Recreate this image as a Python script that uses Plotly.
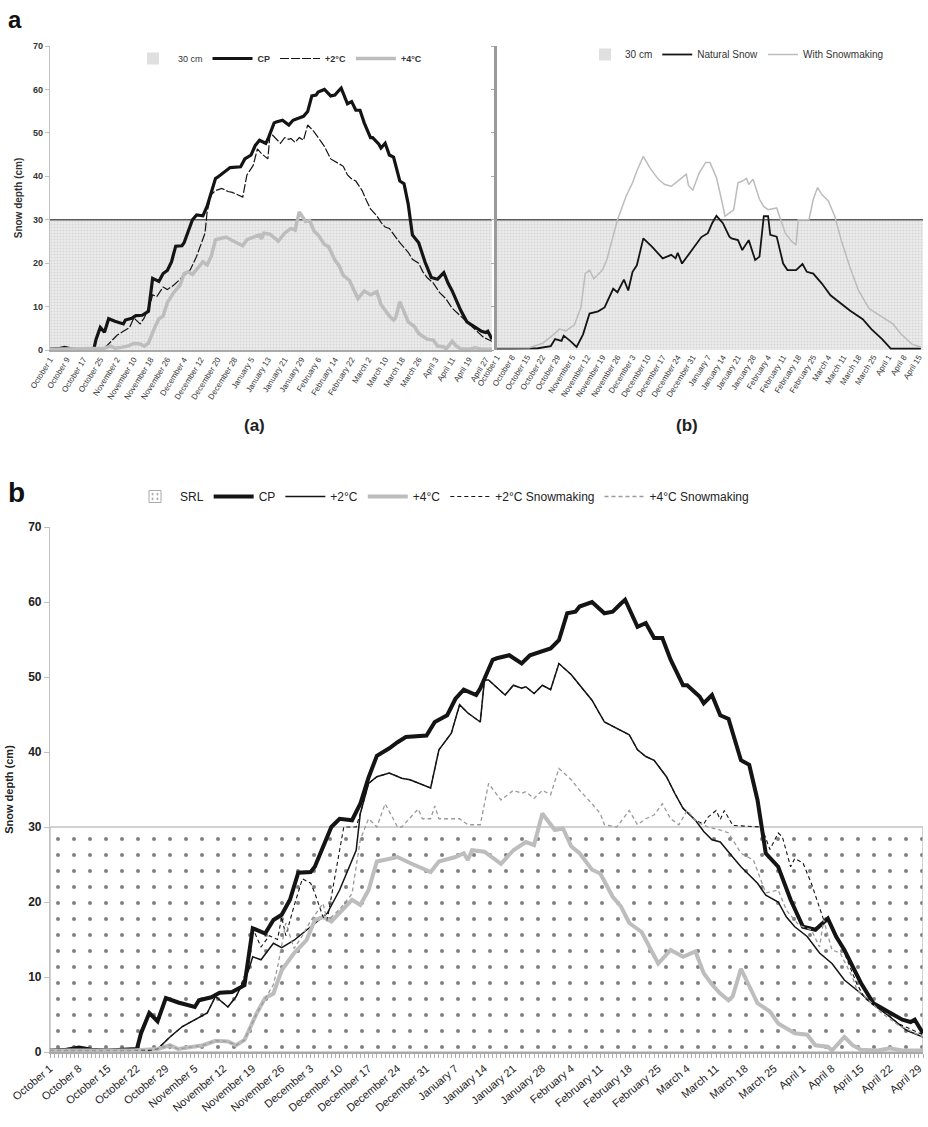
import plotly.graph_objects as go

W, H = 928, 1127

# ---------------- data (x = days since October 1, y = snow depth in cm) ----------------
CP = [(0,0.2),(4,0.3),(7,0.6),(10,0.3),(14,0.2),(18,0.3),(21,0.4),(22,2.5),(24,5.2),(26,4.1),
      (28,7.2),(31,6.6),(35,6.0),(36,6.9),(39,7.3),(41,7.9),(44,8.0),(47,8.9),(48,12.7),(49,16.5),
      (52,15.8),(54,17.6),(56,18.3),(58,20.3),(60,23.9),(63,24.0),(64,24.7),(68,30.0),(70,31.1),
      (73,30.9),(75,33.1),(77,36.6),(79,39.5),(80,39.8),(82,40.5),(84,41.3),(86,42.0),(91,42.2),
      (93,44.0),(96,44.9),(98,47.1),(100,48.3),(103,47.6),(104,48.5),(107,52.3),(108,52.5),
      (111,52.9),(114,51.8),(116,52.9),(121,53.8),(123,54.9),(125,58.5),(127,58.7),(128,59.4),
      (131,60.0),(134,58.5),(136,58.7),(138,59.8),(139,60.3),(142,56.7),(144,57.2),(146,55.2),
      (148,55.2),(150,52.3),(153,48.9),(154,48.9),(157,47.4),(158,46.5),(160,47.6),(162,44.9),
      (164,44.4),(167,38.9),(169,38.3),(171,33.6),(173,26.5),(176,24.7),(179,20.3),(182,16.7),
      (185,16.3),(188,17.8),(190,15.4),(192,13.6),(196,9.2),(199,6.5),(203,5.2),(206,4.3),
      (208,4.0),(209,4.3),(211,2.5)]

PLUS2 = [(0,0.2),(14,0.2),(24,0.2),(26,0.4),(29,2.0),(32,3.4),(35,4.3),(38,5.2),(40,7.4),(43,6.0),
         (45,7.4),(48,10.9),(49,12.7),(51,12.3),(54,14.5),(56,13.9),(59,14.9),(61,15.8),(64,17.1),
         (67,18.5),(70,21.6),(74,26.9),(75,31.8),(77,35.8),(79,36.7),(82,37.2),(85,36.5),(87,36.3),
         (92,35.2),(94,40.3),(97,42.5),(99,46.3),(101,45.2),(104,44.0),(105,49.6),(106,49.6),
         (110,47.6),(112,48.9),(114,48.5),(115,48.7),(117,47.8),(119,48.9),(121,48.3),(123,51.8),
         (126,50.3),(128,48.9),(131,46.9),(134,44.0),(137,43.2),(140,42.3),(142,40.3),(144,39.4),
         (146,38.9),(149,36.7),(151,34.5),(153,32.5),(156,30.9),(158,29.4),(160,28.3),(162,28.0),
         (165,26.0),(167,24.7),(171,22.5),(173,20.9),(176,20.0),(178,18.0),(180,16.7),(183,15.4),
         (186,13.2),(189,11.8),(192,9.6),(196,7.8),(199,6.3),(203,4.7),(207,2.9),(211,2.0)]

PLUS4 = [(0,0.2),(10,0.2),(20,0.2),(26,0.4),(29,0.9),(31,0.4),(34,0.6),(37,0.9),(40,1.5),(43,1.4),
         (45,0.9),(47,1.6),(50,5.2),(52,7.2),(54,7.8),(56,10.9),(59,13.2),(62,14.9),(64,17.6),
         (66,18.0),(68,17.4),(70,18.6),(73,20.3),(75,19.6),(77,21.6),(79,25.4),(81,25.6),(84,26.0),
         (87,25.2),(92,24.0),(94,25.4),(98,26.0),(100,26.5),(101,25.6),(102,26.9),(105,26.7),
         (109,25.1),(112,26.9),(115,28.0),(117,27.6),(119,31.8),(122,29.6),(124,29.8),(126,27.4),
         (128,26.5),(131,24.3),(133,23.8),(136,20.7),(138,19.4),(140,17.2),(143,16.0),(147,11.8),
         (150,13.6),(153,12.7),(156,13.4),(158,10.5),(160,9.0),(162,7.8),(164,6.9),(165,7.4),
         (167,11.1),(169,8.7),(171,6.5),(174,5.4),(176,3.8),(180,2.5),(183,2.3),(185,0.9),
         (188,0.7),(189,0.2),(192,2.0),(194,0.9),(196,0.3),(200,0.2),(203,0.5),(206,0.2),(211,0.2)]

PLUS2_SM = [(0,0.2),(24,0.2),(26,0.4),(29,2.0),(32,3.4),(35,4.3),(38,5.2),(40,7.4),(43,6.0),
            (45,7.4),(48,11.5),(49,16.5),(51,14.0),(53,15.5),(55,15.0),(56,18.0),(57,15.5),
            (59,19.5),(61,23.1),(63,22.5),(64,21.2),(66,18.0),(67,17.6),(69,23.8),(71,30.0),
            (74,30.0),(75,31.8),(77,35.8),(79,36.7),(82,37.2),(85,36.5),(87,36.3),(92,35.2),
            (94,40.3),(97,42.5),(99,46.3),(101,45.2),(104,44.0),(105,49.6),(106,49.6),(110,47.6),
            (112,48.9),(114,48.5),(115,48.7),(117,47.8),(119,48.9),(121,48.3),(123,51.8),
            (126,50.3),(128,48.9),(131,46.9),(134,44.0),(137,43.2),(140,42.3),(142,40.3),
            (144,39.4),(146,38.9),(149,36.7),(151,34.5),(153,32.5),(156,30.9),(158,30.4),
            (159,31.3),(161,32.2),(162,31.0),(163,32.2),(165,30.2),(172,30.0),(174,27.0),
            (176,29.2),(177,28.7),(179,24.7),(180,25.8),(182,25.2),(184,22.5),(187,17.6),
            (188,17.8),(190,15.4),(192,13.2),(195,9.1),(197,7.1),(201,5.6),(205,3.8),(211,2.3)]

PLUS4_SM = [(0,0.2),(20,0.2),(26,0.4),(29,0.9),(31,0.4),(34,0.6),(37,0.9),(40,1.5),(43,1.4),
            (45,0.9),(47,1.6),(50,5.2),(52,7.2),(54,9.0),(55,11.3),(57,17.2),(59,13.8),(61,15.5),
            (63,17.5),(66,19.8),(67,17.5),(70,19.0),(73,21.1),(75,28.3),(77,31.1),(79,30.0),
            (81,33.1),(84,30.0),(85,30.0),(89,32.4),(90,31.1),(92,31.1),(93,32.8),(94,31.1),
            (99,31.1),(101,30.3),(104,30.3),(106,35.8),(109,33.6),(112,34.9),(114,34.5),
            (115,34.7),(117,33.8),(119,34.9),(121,34.3),(123,37.8),(126,36.3),(128,34.9),
            (131,33.1),(133,31.8),(134,30.3),(137,30.0),(140,32.2),(142,30.3),(144,31.1),
            (146,31.6),(148,33.1),(150,31.1),(152,30.3),(154,32.2),(156,30.9),(157,30.5),
            (159,30.0),(162,29.6),(164,29.2),(167,26.5),(170,25.6),(173,21.2),(176,21.6),
            (178,18.9),(181,16.9),(184,16.3),(186,14.0),(187,17.6),(189,13.6),(191,13.2),
            (194,9.9),(195,8.3),(197,7.4),(201,5.2),(205,3.6),(211,2.0)]

NATURAL = [(0,0.3),(10,0.3),(19,0.4),(25,0.9),(27,2.5),(30,2.1),(31,3.3),(34,2.1),(37,0.7),
           (40,3.6),(43,8.4),(47,8.9),(50,9.8),(54,14.1),(56,13.3),(59,16.2),(61,13.7),(63,18.0),
           (65,19.5),(68,25.7),(72,23.8),(77,21.1),(81,21.9),(83,21.1),(84,22.4),(86,19.9),
           (89,21.9),(92,23.8),(95,26.0),(98,26.9),(100,29.2),(102,30.9),(105,29.2),(108,26.1),
           (109,25.7),(112,25.3),(114,23.0),(117,25.3),(120,20.7),(122,21.5),(124,30.8),
           (126,30.8),(127,26.5),(130,26.1),(133,19.9),(135,18.4),(139,18.4),(142,19.8),
           (144,18.0),(147,17.6),(151,15.3),(155,12.6),(159,11.0),(164,9.1),(170,7.1),(174,4.8),
           (179,2.5),(183,0.3),(197,0.3)]

WITH_SM = [(0,0.5),(15,0.5),(21,1.5),(25,3.0),(29,4.8),(32,4.4),(36,5.8),(39,9.8),(41,17.6),
           (43,18.4),(45,16.4),(49,18.4),(51,20.7),(53,24.6),(56,30.0),(60,35.4),(63,38.5),
           (65,41.2),(68,44.6),(71,42.0),(75,39.3),(78,38.1),(81,37.7),(83,38.5),(85,39.3),
           (88,40.5),(89,37.9),(91,36.8),(94,40.8),(97,43.2),(99,43.2),(102,39.7),(104,35.4),
           (106,30.8),(109,31.9),(110,32.3),(112,38.5),(114,38.9),(116,39.5),(117,38.1),
           (119,39.3),(122,34.7),(124,33.0),(126,32.3),(130,32.7),(134,26.9),(137,25.0),
           (139,24.2),(140,30.0),(145,30.0),(147,34.7),(149,37.4),(151,35.8),(154,34.3),
           (157,30.8),(160,25.3),(164,19.1),(168,13.7),(173,9.5),(178,7.9),(184,6.0),(188,3.6),
           (193,1.3),(197,0.7)]

THRESHOLD = 30          # 30 cm / SRL
SEASON_END = 211        # April 30 (days since Oct 1)
SEASON_END_B = 198      # end of panel (b) season

LABELS_A = ["October 1","October 9","October 17","October 25","November 2","November 10",
            "November 18","November 26","December 4","December 12","December 20","December 28",
            "January 5","January 13","January 21","January 29","February 6","February 14",
            "February 22","March 2","March 10","March 18","March 26","April 3","April 11",
            "April 19","April 27"]
LABELS_B = ["October 1","October 8","October 15","October 22","October 29","November 5",
            "November 12","November 19","November 26","December 3","December 10","December 17",
            "December 24","December 31","January 7","January 14","January 21","January 28",
            "February 4","February 11","February 18","February 25","March 4","March 11",
            "March 18","March 25","April 1","April 8","April 15"]
LABELS_BOTTOM = ["October 1","October 8","October 15","October 22","October 29","November 5",
                 "November 12","November 19","November 26","December 3","December 10",
                 "December 17","December 24","December 31","January 7","January 14",
                 "January 21","January 28","February 4","February 11","February 18",
                 "February 25","March 4","March 11","March 18","March 25","April 1","April 8",
                 "April 15","April 22","April 29"]


def xs(p):
    return [d for d, _ in p]


def ys(p):
    return [v for _, v in p]


def dom_x(a, b):
    return [a / W, b / W]


def dom_y(top, bottom):
    return [1 - bottom / H, 1 - top / H]


BLACK = "#141414"
GRAY = "#bdbdbd"
FONT = "Liberation Sans"
NARROW = "Liberation Sans Narrow, Liberation Sans, Arial, sans-serif"

fig = go.Figure()

top_fill = dict(shape=".", size=3, solidity=0.35, fgcolor="#c4c4c4", bgcolor="#ebebeb")
top_legend_fill = dict(shape=".", size=2, solidity=0.4, fgcolor="#bbbbbb", bgcolor="#e8e8e8")
srl_fill = dict(shape=".", size=16, solidity=0.05, fgcolor="black", bgcolor="white")

# ---------- panel a (top-left) ----------
fig.add_trace(go.Scatter(x=[0, SEASON_END], y=[THRESHOLD, THRESHOLD], mode="lines", fill="tozeroy",
                         fillcolor="#e6e6e6", fillpattern=top_fill,
                         line=dict(color="#5a5a5a", width=1.5), name="30 cm", showlegend=False,
                         xaxis="x", yaxis="y"))
fig.add_trace(go.Bar(x=[None], y=[None], name="30 cm", xaxis="x", yaxis="y", legend="legend",
                     marker=dict(color="#e8e8e8", pattern=top_legend_fill, line=dict(width=0))))
fig.add_trace(go.Scatter(x=xs(CP), y=ys(CP), mode="lines", line=dict(color=BLACK, width=3.2),
                         name="<b>CP</b>", xaxis="x", yaxis="y", legend="legend"))
fig.add_trace(go.Scatter(x=xs(PLUS2), y=ys(PLUS2), mode="lines",
                         line=dict(color=BLACK, width=1.2, dash="9px,2px"),
                         name="<b>+2°C</b>", xaxis="x", yaxis="y", legend="legend"))
fig.add_trace(go.Scatter(x=xs(PLUS4), y=ys(PLUS4), mode="lines", line=dict(color=GRAY, width=3.5),
                         name="<b>+4°C</b>", xaxis="x", yaxis="y", legend="legend"))

# ---------- panel b (top-right) ----------
fig.add_trace(go.Scatter(x=[0, SEASON_END_B], y=[THRESHOLD, THRESHOLD], mode="lines", fill="tozeroy",
                         fillcolor="#e6e6e6", fillpattern=top_fill,
                         line=dict(color="#5a5a5a", width=1.5), name="30 cm", showlegend=False,
                         xaxis="x2", yaxis="y2"))
fig.add_trace(go.Bar(x=[None], y=[None], name="30 cm", xaxis="x2", yaxis="y2", legend="legend2",
                     marker=dict(color="#e8e8e8", pattern=top_legend_fill, line=dict(width=0))))
fig.add_trace(go.Scatter(x=xs(NATURAL), y=ys(NATURAL), mode="lines", line=dict(color=BLACK, width=1.8),
                         name="Natural Snow", xaxis="x2", yaxis="y2", legend="legend2"))
fig.add_trace(go.Scatter(x=xs(WITH_SM), y=ys(WITH_SM), mode="lines", line=dict(color="#bcbcbc", width=1.5),
                         name="With Snowmaking", xaxis="x2", yaxis="y2", legend="legend2"))

# ---------- bottom panel ----------
fig.add_trace(go.Scatter(x=[0, 0, SEASON_END, SEASON_END, 0], y=[0, THRESHOLD, THRESHOLD, 0, 0],
                         mode="lines", fill="toself", fillcolor="white", fillpattern=srl_fill,
                         line=dict(color="#c4c4c4", width=1.5), name="SRL", showlegend=False,
                         xaxis="x3", yaxis="y3"))
fig.add_trace(go.Bar(x=[None], y=[None], name="SRL", xaxis="x3", yaxis="y3", legend="legend3",
                     marker=dict(color="white",
                                 pattern=dict(shape=".", size=6, solidity=0.12, fgcolor="black", bgcolor="white"),
                                 line=dict(color="#aaaaaa", width=1))))
fig.add_trace(go.Scatter(x=xs(CP), y=ys(CP), mode="lines", line=dict(color=BLACK, width=4),
                         name="CP", xaxis="x3", yaxis="y3", legend="legend3"))
fig.add_trace(go.Scatter(x=xs(PLUS2), y=ys(PLUS2), mode="lines", line=dict(color=BLACK, width=1.5),
                         name="+2°C", xaxis="x3", yaxis="y3", legend="legend3"))
fig.add_trace(go.Scatter(x=xs(PLUS4), y=ys(PLUS4), mode="lines", line=dict(color=GRAY, width=4),
                         name="+4°C", xaxis="x3", yaxis="y3", legend="legend3"))
fig.add_trace(go.Scatter(x=xs(PLUS2_SM), y=ys(PLUS2_SM), mode="lines",
                         line=dict(color=BLACK, width=1.1, dash="4px,3px"),
                         name="+2°C Snowmaking", xaxis="x3", yaxis="y3", legend="legend3"))
fig.add_trace(go.Scatter(x=xs(PLUS4_SM), y=ys(PLUS4_SM), mode="lines",
                         line=dict(color="#9a9a9a", width=1.3, dash="4px,3px"),
                         name="+4°C Snowmaking", xaxis="x3", yaxis="y3", legend="legend3"))

top_tickfont = dict(family=FONT, size=8, color="#333")
fig.update_layout(
    width=W, height=H, margin=dict(l=0, r=0, t=0, b=0, autoexpand=False),
    paper_bgcolor="white", plot_bgcolor="white",
    font=dict(family=FONT, color="#222"),
    xaxis=dict(domain=dom_x(50, 492), range=[0, SEASON_END], tickmode="array", automargin=False,
               tickvals=[8 * i for i in range(len(LABELS_A))], ticktext=LABELS_A, tickangle=-58,
               tickfont=top_tickfont, showgrid=False, zeroline=False, showline=True,
               linecolor="#aaaaaa", linewidth=1.5, ticks=""),
    yaxis=dict(domain=dom_y(46, 350), range=[0, 70], dtick=10, showgrid=False, zeroline=False,
               automargin=False,
               showline=True, linecolor="#c0c0c0", linewidth=1.2, ticks="outside", ticklen=4,
               tickcolor="#c0c0c0", tickfont=dict(family=FONT, size=9, color="#333", weight="bold"),
               title=dict(text="Snow depth (cm)", font=dict(family=FONT, size=10, color="#333", weight="bold"),
                          standoff=8)),
    xaxis2=dict(domain=dom_x(497, 923), range=[0, SEASON_END_B], anchor="y2", tickmode="array",
                automargin=False,
                tickvals=[7 * i for i in range(len(LABELS_B))], ticktext=LABELS_B, tickangle=-58,
                tickfont=top_tickfont, showgrid=False, zeroline=False, showline=False, ticks=""),
    yaxis2=dict(domain=dom_y(46, 350), range=[0, 70], dtick=10, anchor="x2", showgrid=False,
                automargin=False,
                zeroline=False, showline=True, linecolor="#9a9a9a", linewidth=3, ticks="outside",
                ticklen=3, tickcolor="#aaaaaa", showticklabels=False),
    xaxis3=dict(domain=dom_x(50, 923), range=[0, SEASON_END], anchor="y3", tickmode="array",
                automargin=False,
                tickvals=[7 * i for i in range(len(LABELS_BOTTOM))], ticktext=LABELS_BOTTOM,
                tickangle=-40, tickfont=dict(family=NARROW, size=11, color="#222"),
                showgrid=False, zeroline=False, showline=True, linecolor="#a8a8a8", linewidth=2,
                ticks="outside", ticklen=4, tickcolor="#a8a8a8",
                minor=dict(dtick=1, ticks="outside", ticklen=4, tickcolor="#b0b0b0", showgrid=False)),
    yaxis3=dict(domain=dom_y(527, 1052), range=[0, 70], dtick=10, anchor="x3", showgrid=False,
                automargin=False,
                zeroline=False, showline=True, linecolor="#c0c0c0", linewidth=1.2, ticks="outside",
                ticklen=5, tickcolor="#c0c0c0",
                tickfont=dict(family=NARROW, size=12, color="#222", weight="bold"),
                title=dict(text="Snow depth (cm)", font=dict(family=FONT, size=11, color="#222", weight="bold"),
                           standoff=12)),
    legend=dict(orientation="h", x=128 / W, y=1 - 44 / H, xanchor="left", yanchor="top",
                bgcolor="rgba(0,0,0,0)", font=dict(family=FONT, size=9, color="#333"),
                itemwidth=40, tracegroupgap=0),
    legend2=dict(orientation="h", x=585 / W, y=1 - 40 / H, xanchor="left", yanchor="top",
                 bgcolor="rgba(0,0,0,0)", font=dict(family=FONT, size=10, color="#333"),
                 itemwidth=30),
    legend3=dict(orientation="h", x=130 / W, y=1 - 482 / H, xanchor="left", yanchor="top",
                 bgcolor="rgba(0,0,0,0)", font=dict(family=NARROW, size=12, color="#222"),
                 itemwidth=40),
    annotations=[
        dict(text="<b>a</b>", x=6 / W, y=1 - 4 / H, xref="paper", yref="paper", xanchor="left",
             yanchor="top", showarrow=False, font=dict(family=FONT, size=24, color="#111")),
        dict(text="<b>(a)</b>", x=242 / W, y=1 - 425 / H, xref="paper", yref="paper",
             showarrow=False, font=dict(family=FONT, size=17, color="#222")),
        dict(text="<b>(b)</b>", x=700 / W, y=1 - 425 / H, xref="paper", yref="paper",
             showarrow=False, font=dict(family=FONT, size=17, color="#222")),
        dict(text="<b>b</b>", x=6 / W, y=1 - 475 / H, xref="paper", yref="paper", xanchor="left",
             yanchor="top", showarrow=False, font=dict(family=FONT, size=28, color="#111")),
    ],
    showlegend=True,
)

fig.write_html("out.html")
